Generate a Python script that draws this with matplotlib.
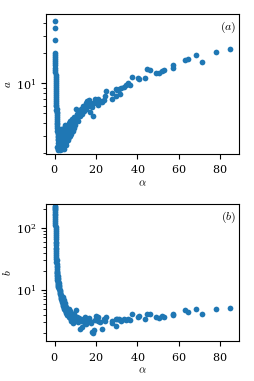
import matplotlib
matplotlib.use("Agg")
import matplotlib.pyplot as plt

plt.rcParams['mathtext.fontset'] = 'cm'
plt.rcParams['font.family'] = 'serif'
plt.rcParams['font.serif'] = ['DejaVu Serif']
plt.rcParams['axes.formatter.use_mathtext'] = True
plt.rcParams['font.size'] = 8

alpha = [
    0.10, 0.12, 0.15, 0.20, 0.18, 0.25, 0.22, 0.30, 0.28, 0.35,
    0.32, 0.40, 0.38, 0.45, 0.42, 0.50, 0.48, 0.55, 0.52, 0.60,
    0.58, 0.65, 0.62, 0.70, 0.68, 0.75, 0.72, 0.80, 0.78, 0.85,
    0.90, 0.88, 0.95, 1.00, 1.05, 1.10, 1.00, 1.15, 1.20, 1.25,
    1.30, 1.20, 1.40, 1.35, 1.50, 1.45, 1.60, 1.55, 1.70, 1.65,
    1.3, 1.5, 1.6, 1.8, 1.9, 2.0, 2.1, 2.2, 2.3, 2.4,
    2.5, 2.6, 2.7, 2.8, 2.9, 3.0, 3.1, 3.2, 3.3, 3.4,
    3.5, 3.6, 3.7, 3.8, 3.9, 4.0, 4.1, 4.2, 4.3, 4.4,
    4.5, 4.6, 4.7, 4.8, 5.0, 5.1, 5.2, 5.3, 5.5, 5.6,
    5.7, 5.9, 6.0, 6.2, 6.3, 6.5, 6.7, 6.8, 7.0, 7.2,
    7.4, 7.5, 7.7, 7.9, 8.0, 8.3, 8.5, 8.7, 9.0, 9.2,
    9.5, 9.8, 10.0, 10.3, 10.6, 11.0, 11.2,
    11.8, 12.3, 12.8, 13.2, 13.5, 14.0, 14.5, 15.0, 15.3, 15.8,
    16.2, 16.8, 17.2, 17.5, 18.1, 18.7, 18.8, 19.3, 20.0, 20.8,
    20.8, 22.0, 22.9, 23.7, 24.3, 25.0, 27.5, 27.5, 29.7, 29.8,
    30.1, 31.1, 31.7, 32.2, 33.5, 34.5, 35.3, 36.6, 37.4, 40.3,
    40.8, 43.5, 44.6, 46.2, 48.8, 50.4, 51.7, 53.0, 57.3, 57.3,
    62.8, 64.3, 68.3, 71.2, 78.0, 84.9,
]

a_vals = [
    42.5, 35.6, 27.4, 20.1, 19.2, 18.4, 17.6, 16.9, 16.0, 15.2,
    14.3, 13.5, 12.9, 12.2, 11.6, 11.0, 10.5, 10.0, 9.6, 9.2,
    8.8, 8.4, 8.0, 7.7, 7.3, 7.0, 6.7, 6.4, 6.1, 5.9,
    5.6, 5.4, 5.2, 5.0, 4.8, 4.6, 4.4, 4.2, 4.0, 3.9,
    3.7, 3.6, 3.5, 3.3, 3.2, 3.1, 3.0, 2.9, 2.8, 2.7,
    2.3, 2.2, 2.5, 2.15, 2.7, 2.3, 2.9, 2.2, 2.5, 3.1,
    2.15, 2.7, 2.4, 3.3, 2.2, 2.6, 2.9, 2.3, 3.5, 2.5,
    2.8, 2.2, 3.1, 2.4, 2.7, 3.3, 2.3, 2.6, 3.0, 2.45,
    3.6, 2.8, 2.2, 3.2, 2.5, 2.9, 3.8, 2.6, 3.1, 2.4,
    3.4, 2.8, 3.0, 3.7, 2.7, 3.3, 2.9, 4.0, 3.2, 3.5,
    3.0, 4.2, 3.4, 3.1, 3.8, 3.5, 4.4, 3.3, 3.9, 3.6,
    4.6, 4.1, 3.8, 5.5, 4.4, 4.9, 4.2,
    5.2, 4.7, 5.6, 4.9, 6.0, 5.3, 5.8, 6.3, 5.5, 6.6,
    6.0, 6.8, 5.2, 6.4, 5.75, 4.7, 6.3, 7.0, 6.6, 6.95,
    6.06, 6.6, 6.55, 6.8, 7.45, 8.4, 7.0, 8.05, 8.8, 7.4,
    8.5, 8.7, 7.8, 8.9, 9.25, 9.55, 10.0, 9.7, 11.6, 11.4,
    11.0, 11.4, 14.0, 13.7, 12.7, 12.7, 13.4, 13.5, 15.3, 14.3,
    17.0, 17.4, 19.4, 16.4, 20.6, 22.1,
]

b_vals = [
    228, 221, 212, 203, 192, 181, 170, 160, 150, 138,
    127, 118, 110, 102, 95, 88, 82, 76, 70, 65,
    60, 56, 52, 48, 45, 42, 39, 36, 34, 32,
    30, 28, 26, 24.5, 23, 21.5, 20.5, 19.5, 18.5, 17.5,
    16.5, 15.8, 15.0, 14.3, 13.6, 13.0, 12.4, 12.0, 11.4, 11.0,
    19, 17, 15.5, 14, 13, 12, 11.5, 11, 10.5, 10,
    9.6, 9.2, 8.8, 8.5, 8.2, 8.0, 7.7, 7.5, 7.2, 7.0,
    6.8, 6.6, 6.4, 6.2, 7.8, 6.0, 5.8, 5.6, 6.9, 5.4,
    5.5, 5.2, 5.0, 6.2, 4.9, 4.7, 5.8, 4.5, 4.4, 4.3,
    5.3, 4.2, 4.0, 4.8, 3.9, 4.1, 3.8, 5.0, 3.7, 4.4,
    3.5, 4.6, 3.9, 3.2, 4.2, 3.6, 4.0, 2.9, 3.8, 3.4,
    4.1, 3.6, 3.1, 4.8, 3.7, 3.3, 3.0,
    3.5, 2.3, 3.2, 2.5, 3.4, 3.0, 3.6, 3.3, 2.8, 3.4,
    3.1, 3.5, 3.2, 2.9, 2.1, 2.0, 2.25, 3.3, 3.8, 3.6,
    3.1, 3.0, 2.32, 3.4, 3.1, 3.63, 2.95, 3.2, 2.63, 3.4,
    3.4, 3.35, 3.28, 3.15, 3.35, 3.28, 3.35, 3.28, 4.15, 3.7,
    3.85, 3.45, 4.15, 4.06, 3.7, 3.5, 3.75, 3.63, 4.15, 3.96,
    4.7, 4.47, 4.9, 4.06, 5.0, 5.07,
]

color = '#1f77b4'

fig = plt.figure(figsize=(2.54, 3.81), dpi=100)
ax1 = fig.add_axes([0.181, 0.597, 0.760, 0.366])
ax2 = fig.add_axes([0.181, 0.105, 0.760, 0.360])

for ax, yv, ylab, tag, ylim in [
    (ax1, a_vals, '$a$', '$(a)$', (1.98, 49.6)),
    (ax2, b_vals, '$b$', '$(b)$', (1.50, 244)),
]:
    ax.scatter(alpha, yv, s=17, color=color, linewidths=0)
    ax.set_yscale('log')
    ax.set_ylim(*ylim)
    ax.set_xlim(-4.2, 89.1)
    ax.set_xticks([0, 20, 40, 60, 80])
    ax.set_xlabel(r'$\alpha$', labelpad=2)
    ax.set_ylabel(ylab, labelpad=2)
    ax.text(0.985, 0.96, tag, transform=ax.transAxes, ha='right', va='top', fontsize=8.5)
    ax.tick_params(labelsize=8)

fig.savefig('out.png', dpi=100)
